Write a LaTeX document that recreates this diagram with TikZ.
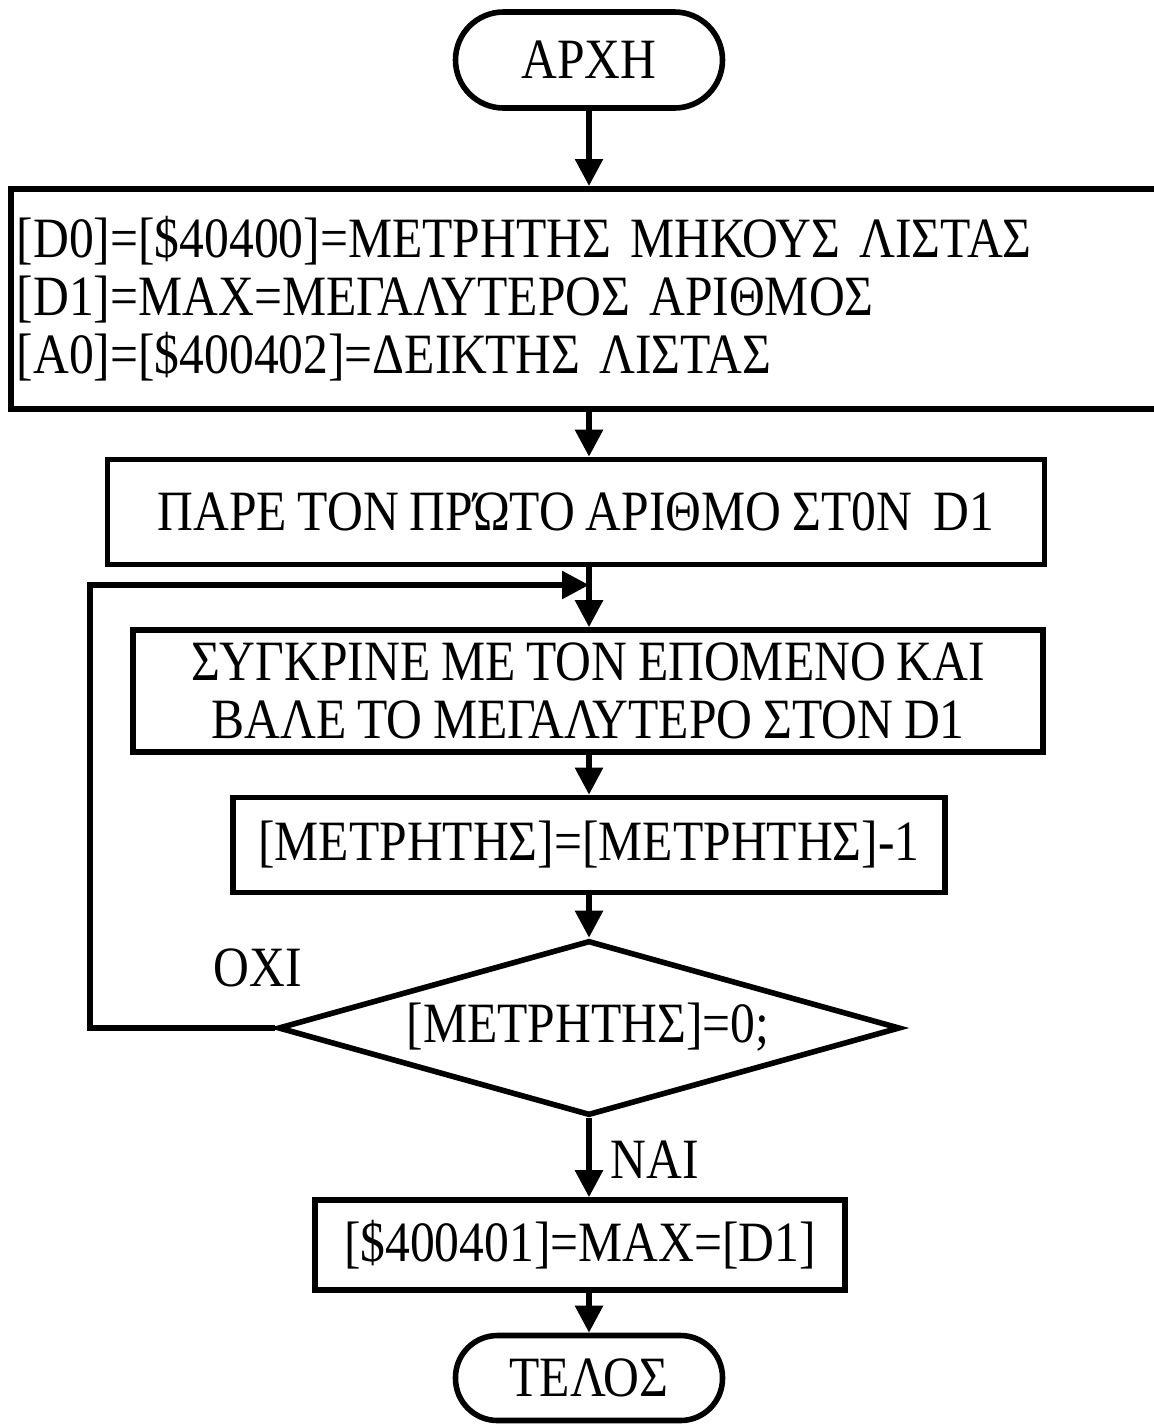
\documentclass[tikz,border=0pt]{standalone}
\usepackage{fontspec}
\setmainfont[FakeStretch=0.87,WordSpace=0.87]{Liberation Serif}
\usetikzlibrary{arrows.meta,shapes.geometric,calc}
\tikzset{every picture/.style={line width=2.8pt}}

\begin{document}
\begin{tikzpicture}[x=0.5pt,y=-0.5pt,
    font=\fontsize{28.5}{29}\selectfont,
    terminal/.style={draw, minimum width=133.5pt, inner sep=0pt},
    procbox/.style={draw, inner sep=0pt, align=center},
    flow/.style={-{Triangle[length=13.5pt,width=13.5pt]}}]
    \useasboundingbox (0,0) rectangle (1153,1425);
    \node[terminal, minimum height=48pt, rounded corners=24pt] (start) at (589,60) {ΑΡΧΗ};
    \node[procbox, anchor=north west, minimum height=110pt, text width=583pt,
          inner xsep=3pt, align=left] (init) at (8,186)
        {[D0]=[\$40400]=ΜΕΤΡΗΤΗΣ ΜΗΚΟΥΣ ΛΙΣΤΑΣ\\{}[D1]=ΜΑΧ=ΜΕΓΑΛΥΤΕΡΟΣ ΑΡΙΘΜΟΣ\\{}[A0]=[\$400402]=ΔΕΙΚΤΗΣ ΛΙΣΤΑΣ};
    \node[procbox, minimum width=468.5pt, minimum height=52.5pt] (first) at (576,512) {ΠΑΡΕ ΤΟΝ ΠΡΏΤΟ ΑΡΙΘΜΟ ΣΤ0Ν~ D1};
    \node[procbox, minimum width=455pt, minimum height=61pt] (cmp) at (588,691)
        {ΣΥΓΚΡΙΝΕ ΜΕ ΤΟΝ ΕΠΟΜΕΝΟ ΚΑΙ\\ΒΑΛΕ ΤΟ ΜΕΓΑΛΥΤΕΡΟ ΣΤΟΝ D1};
    \node[procbox, minimum width=356pt, minimum height=47.5pt] (dec) at (589,845) {[ΜΕΤΡΗΤΗΣ]=[ΜΕΤΡΗΤΗΣ]-1};
    \node[draw, diamond, minimum width=311pt, minimum height=87.5pt, inner sep=0pt] (test) at (589,1028) {};
    \node (testtxt) at (588,1027) {[ΜΕΤΡΗΤΗΣ]=0;};
    \node[procbox, minimum width=265pt, minimum height=45pt] (store) at (580,1245) {[\$400401]=ΜΑΧ=[D1]};
    \node[terminal, minimum height=42.5pt, rounded corners=21pt] (stop) at (589,1378) {ΤΕΛΟΣ};
    \node (no) at (258,968) {ΟΧΙ};
    \node (yes) at (655,1160) {ΝΑΙ};
    \coordinate (join) at (589,585);
    \coordinate (back) at (90,585);
    \draw[flow] (start) -- (start |- init.north);
    \draw[flow] (init.south -| join) -- (join |- first.north);
    \draw (first.south -| join) -- (join);
    \draw[flow] (join) -- (join |- cmp.north);
    \draw[flow] (cmp.south -| join) -- (join |- dec.north);
    \draw[flow] (dec.south -| join) -- (test.north);
    \draw[flow] (test.south) -- (test.south |- store.north);
    \draw[flow] (store.south -| test.south) -- (stop.north);
    \draw[flow] (test.west) -- (test.west -| back) -- (back) -- (join);
\end{tikzpicture}
\end{document}
